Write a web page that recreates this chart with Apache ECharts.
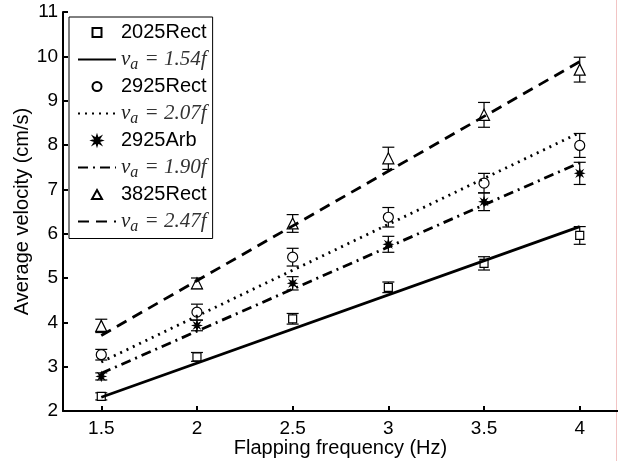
<!DOCTYPE html>
<html>
<head>
<meta charset="utf-8">
<script src="https://cdn.jsdelivr.net/npm/echarts@6/dist/echarts.min.js"></script>
<style>
  html, body { margin: 0; padding: 0; background: #fff; }
  #chart { width: 618px; height: 461px; }
</style>
</head>
<body>
<div id="chart"></div>
<script>
// flapping frequency (Hz)
const freqs = [1.5, 2, 2.5, 3, 3.5, 4];
const xTicks = [1.5, 2, 2.5, 3, 3.5, 4];

// average velocity (cm/s) and error bar half-widths
const rect2025 = [2.33, 3.22, 4.08, 4.79, 5.33, 5.96];
const err2025 = [0.08, 0.1, 0.12, 0.12, 0.15, 0.2];
const rect2925 = [3.27, 4.23, 5.47, 6.37, 7.14, 7.99];
const err2925 = [0.12, 0.18, 0.2, 0.22, 0.22, 0.27];
const arb2925 = [2.78, 3.93, 4.88, 5.76, 6.72, 7.36];
const errArb = [0.08, 0.12, 0.15, 0.18, 0.2, 0.25];
const rect3825 = [3.92, 4.88, 6.23, 7.7, 8.68, 9.7];
const err3825 = [0.15, 0.12, 0.2, 0.25, 0.28, 0.28];

// linear fits v_a = k f
const slopes = [1.54, 2.07, 1.90, 2.47];
const fitRange = [1.5, 4];

const starPath = 'path://M0,-10 L2,-4 L7,-7 L4,-2 L10,0 L4,2 L7,7 L2,4 L0,10 L-2,4 L-7,7 L-4,2 L-10,0 L-4,-2 L-7,-7 L-2,-4 Z';
const squarePath = 'path://M0,0 L10,0 L10,10 L0,10 Z';
const circlePath = 'path://M0,5 A5,5 0 1,0 10,5 A5,5 0 1,0 0,5 Z';
const trianglePath = 'path://M5,0 L10,9 L0,9 Z';

const groups = [
    { name: '2025Rect', vals: rect2025, errs: err2025, symbol: 'rect', icon: squarePath, size: 8, fill: '#fff' },
    { name: '2925Rect', vals: rect2925, errs: err2925, symbol: 'circle', icon: circlePath, size: 10, fill: '#fff' },
    { name: '2925Arb', vals: arb2925, errs: errArb, symbol: starPath, icon: starPath, size: 8, fill: '#000' },
    { name: '3825Rect', vals: rect3825, errs: err3825, symbol: 'triangle', icon: trianglePath, size: 11, fill: '#fff' }
];
const lineTypes = ['solid', [2, 5], [10, 5, 2, 5], [11, 7]];

function fitName(k) {
    return 'va = ' + k.toFixed(2) + 'f';
}

const series = [];
const legendData = [];
groups.forEach(function (g, i) {
    legendData.push({ name: g.name, icon: g.icon });
    legendData.push({ name: fitName(slopes[i]) });
    series.push({
        name: g.name,
        type: 'scatter',
        symbol: g.symbol,
        symbolSize: g.size,
        itemStyle: { color: g.fill, borderColor: '#000', borderWidth: 1.2, opacity: 1 },
        data: freqs.map(function (f, j) { return [f, g.vals[j]]; }),
        z: 3
    });
    series.push({
        name: g.name + ' err',
        type: 'custom',
        renderItem: function (params, api) {
            const x = api.value(0);
            const lo = api.coord([x, api.value(1) - api.value(2)]);
            const hi = api.coord([x, api.value(1) + api.value(2)]);
            const w = 6;
            const st = { stroke: '#000', lineWidth: 1.2 };
            return {
                type: 'group',
                children: [
                    { type: 'line', shape: { x1: lo[0], y1: lo[1], x2: hi[0], y2: hi[1] }, style: st },
                    { type: 'line', shape: { x1: lo[0] - w, y1: lo[1], x2: lo[0] + w, y2: lo[1] }, style: st },
                    { type: 'line', shape: { x1: hi[0] - w, y1: hi[1], x2: hi[0] + w, y2: hi[1] }, style: st }
                ]
            };
        },
        data: freqs.map(function (f, j) { return [f, g.vals[j], g.errs[j]]; }),
        z: 2
    });
    series.push({
        name: fitName(slopes[i]),
        type: 'line',
        symbol: 'none',
        silent: true,
        itemStyle: { color: 'rgba(0,0,0,0)' },
        lineStyle: { color: '#000', width: 2.8, type: lineTypes[i] },
        data: fitRange.map(function (f) { return [f, +(slopes[i] * f).toFixed(4)]; }),
        z: 4
    });
});

const chart = echarts.init(document.getElementById('chart'));
chart.setOption({
    backgroundColor: '#fff',
    animation: false,
    grid: { left: 63, right: 0, top: 12, bottom: 50, containLabel: false, outerBoundsMode: 'none' },
    legend: {
        data: legendData,
        orient: 'vertical',
        left: 69,
        top: 17,
        padding: [4, 6, 4, 8],
        itemWidth: 38,
        itemHeight: 9,
        itemGap: 2.5,
        itemTextGap: 7,
        symbolKeepAspect: true,
        borderColor: '#000',
        borderWidth: 1,
        backgroundColor: '#fff',
        selectedMode: false,
        formatter: function (name) {
            if (name.indexOf('va') === 0) {
                return '{v|v}{s|a}{e|' + name.slice(2) + '}';
            }
            return name;
        },
        textStyle: {
            fontFamily: 'Liberation Sans', fontSize: 20, color: '#000', lineHeight: 23,
            rich: {
                v: { fontFamily: 'Liberation Serif', fontStyle: 'italic', fontSize: 21, color: '#222', lineHeight: 22 },
                s: { fontFamily: 'Liberation Serif', fontStyle: 'italic', fontSize: 16, color: '#222', lineHeight: 12, padding: [10, 1, 0, 0] },
                e: { fontFamily: 'Liberation Serif', fontStyle: 'italic', fontSize: 21, color: '#333', lineHeight: 22 }
            }
        }
    },
    graphic: [{
        type: 'line', silent: true,
        shape: { x1: 616.5, y1: 0, x2: 616.5, y2: 461 },
        style: { stroke: '#f2c4c4', lineWidth: 1 }
    }],
    xAxis: {
        type: 'value',
        min: 1.3,
        max: 4.2,
        name: 'Flapping frequency (Hz)',
        nameLocation: 'middle',
        nameGap: 27,
        nameMoveOverlap: false,
        nameTextStyle: { fontFamily: 'Liberation Sans', fontSize: 20, color: '#000' },
        axisLine: { onZero: false, lineStyle: { color: '#000', width: 2 } },
        axisTick: { inside: true, length: 5, customValues: xTicks, lineStyle: { color: '#000', width: 2 } },
        axisLabel: { customValues: xTicks, margin: 8, fontFamily: 'Liberation Sans', fontSize: 19, color: '#000' },
        splitLine: { show: false }
    },
    yAxis: {
        type: 'value',
        min: 2,
        max: 11,
        interval: 1,
        name: 'Average velocity (cm/s)',
        nameLocation: 'middle',
        nameGap: 31,
        nameMoveOverlap: false,
        nameTextStyle: { fontFamily: 'Liberation Sans', fontSize: 20, color: '#000' },
        axisLine: { onZero: false, lineStyle: { color: '#000', width: 2 } },
        axisTick: { inside: true, length: 5, lineStyle: { color: '#000', width: 2 } },
        axisLabel: { margin: 5, fontFamily: 'Liberation Sans', fontSize: 19, color: '#000' },
        splitLine: { show: false }
    },
    series: series
});
</script>
</body>
</html>
